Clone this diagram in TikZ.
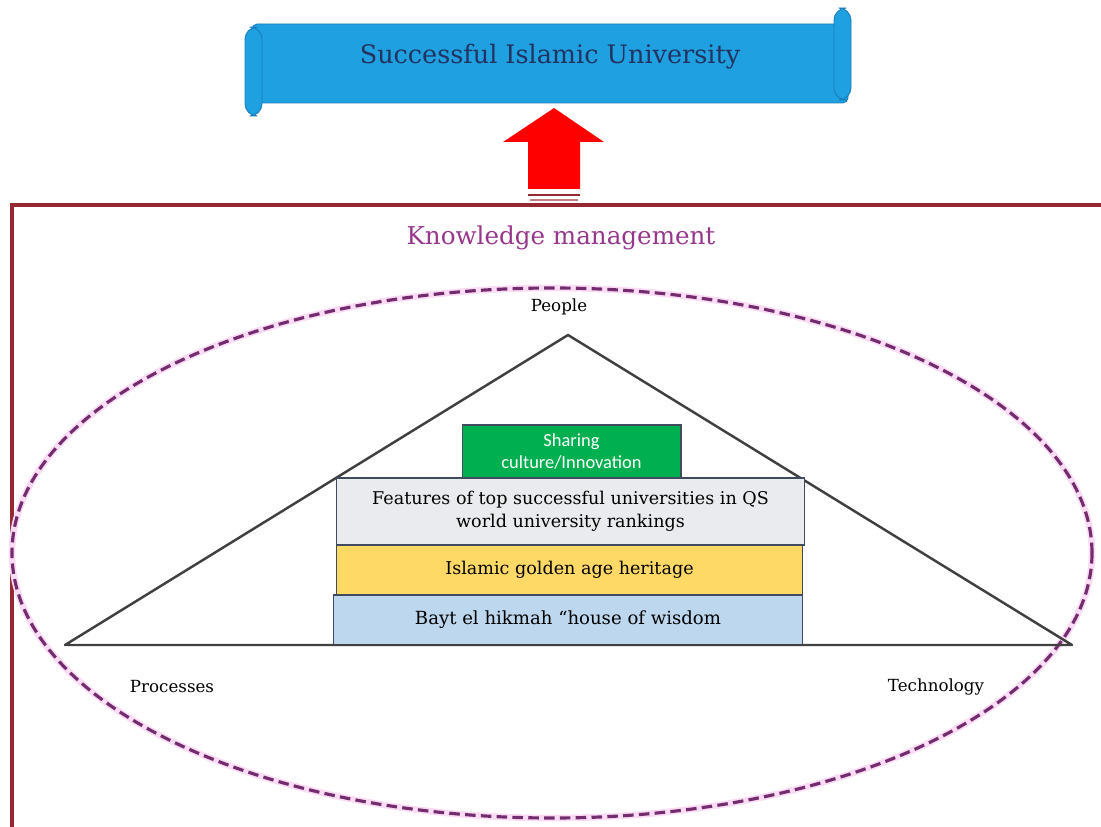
\documentclass[tikz,border=0pt]{standalone}
\usepackage{fontspec}
\setmainfont{DejaVu Serif}
\newfontfamily\calibri{Carlito}
\definecolor{scroll}{RGB}{30,160,225}
\definecolor{scrolledge}{RGB}{25,125,185}
\definecolor{navy}{RGB}{35,50,95}
\definecolor{frame}{RGB}{150,40,50}
\definecolor{oval}{RGB}{115,45,110}
\definecolor{glow}{RGB}{250,220,245}
\definecolor{kmtext}{RGB}{150,55,140}
\definecolor{boxline}{RGB}{65,75,95}
\definecolor{sharegreen}{RGB}{0,176,80}
\definecolor{featgray}{RGB}{234,235,238}
\definecolor{goldyellow}{RGB}{255,217,102}
\definecolor{paleblue}{RGB}{189,215,238}

\begin{document}
\begin{tikzpicture}[x=0.02cm, y=-0.02cm]
	\tikzset{layer/.style={draw=boxline, line width=0.6pt, inner sep=0pt, align=center, minimum height=1cm, font=\fontsize{10}{13}\selectfont},
		corner/.style={font=\fontsize{9.5}{11}\selectfont}}
	\useasboundingbox (0,0) rectangle (1101,827);
	
	\begin{scope}
		\clip (0,0) rectangle (1101,827);
		\draw[frame, line width=2.1pt] (12,205) rectangle (1120,850);
	\end{scope}
	
	\draw[fill=scroll, draw=scrolledge, line width=0.5pt, rounded corners=3] (252,24) rectangle (848,103);
	\draw[fill=scroll, draw=scrolledge, line width=0.5pt, rounded corners=7] (245,27) rectangle (262,116);
	\draw[fill=scroll, draw=scrolledge, line width=0.5pt, rounded corners=7] (834,8) rectangle (851,100);
	\node[text=navy, font=\fontsize{14.5}{16}\selectfont] (title) at (550,57) {Successful Islamic University};
	
	\fill[red] (554,108) -- (604,142) -- (580,142) -- (580,189) -- (528,189) -- (528,142) -- (503,142) -- cycle;
	\draw[frame, line width=1.2pt] (528,195) -- (580,195);
	\draw[frame!60, line width=0.6pt] (530,200) -- (578,200);
	
	\node[text=kmtext, font=\fontsize{14}{16}\selectfont] (km) at (561,238) {Knowledge management};
	
	\draw[glow, line width=3.8pt] (552,553) ellipse [x radius=540, y radius=265];
	\draw[oval, line width=1.8pt, dash pattern=on 6pt off 3pt] (552,553) ellipse [x radius=540, y radius=265];
	
	\coordinate (apex) at (568,335);
	\coordinate (lft) at (65,645);
	\coordinate (rgt) at (1072,645);
	\draw[black!75, line width=1.4pt, line join=round] (lft) -- (apex) -- (rgt) -- cycle;
	
	\node[corner] (people) at (559,307) {People};
	\node[corner] (proc) at (172,687) {Processes};
	\node[corner] (tech) at (936,687) {Technology};
	
	\node[layer, fill=sharegreen, text=white, minimum width=4.38cm, minimum height=1.06cm, font=\calibri\fontsize{10.5}{12.5}\selectfont] (share) at (571.5,451.5) {Sharing\\culture/Innovation};
	\node[layer, fill=featgray, minimum width=9.38cm, minimum height=1.34cm] (feat) at (570.5,511.5) {Features of top successful universities in QS\\world university rankings};
	\node[layer, fill=goldyellow, minimum width=9.34cm] (gold) at (569.5,570) {Islamic golden age heritage};
	\node[layer, fill=paleblue, minimum width=9.4cm, font=\fontsize{10.3}{13}\selectfont] (bayt) at (568,620) {Bayt el hikmah ``house of wisdom};
	\draw[black!75, line width=1.4pt] (lft) -- (rgt);
	
\end{tikzpicture}
\end{document}
